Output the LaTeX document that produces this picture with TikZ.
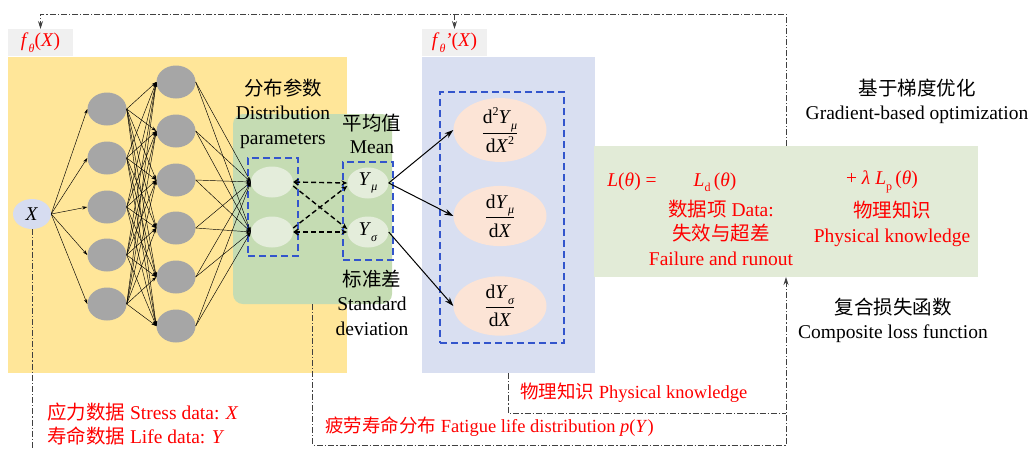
\documentclass[tikz,border=0pt]{standalone}
\usepackage{fontspec}
\setmainfont{Liberation Serif}
\newfontfamily\cjk{Noto Sans CJK SC}
\usetikzlibrary{shapes.geometric,arrows.meta,calc}
\newcommand\mysub[1]{\raisebox{-0.28em}{\fontsize{12}{12}\selectfont #1}}
\newcommand\mysup[1]{\raisebox{0.42em}{\fontsize{12}{12}\selectfont #1}}
\definecolor{yelc}{HTML}{FFE699}
\definecolor{bluep}{HTML}{D9DFF1}
\definecolor{greenr}{HTML}{C5DCB3}
\definecolor{lossc}{HTML}{E2EBD7}
\definecolor{ngray}{HTML}{A6A6A6}
\definecolor{distc}{HTML}{E4EDDB}
\definecolor{orc}{HTML}{FCE4D6}
\definecolor{xnc}{HTML}{D6DCF0}
\definecolor{labg}{HTML}{F0F0F0}
\definecolor{bdash}{HTML}{3355CC}
\definecolor{ddc}{HTML}{404040}
\tikzset{
  txt/.style={font=\fontsize{19.5}{24.5}\selectfont, align=center, inner sep=0pt},
  redtxt/.style={txt, text=red},
  panel/.style={draw=none, inner sep=0pt, outer sep=0pt},
  gnode/.style={ellipse, fill=ngray, minimum width=39pt, minimum height=33pt, inner sep=0pt},
  dnode/.style={ellipse, fill=distc, minimum width=42pt, minimum height=31pt, inner sep=0pt},
  ynode/.style={ellipse, fill=distc, minimum width=41pt, minimum height=31pt, inner sep=0pt, font=\fontsize{19.5}{24}\selectfont},
  onode/.style={ellipse, fill=orc, minimum width=93pt, minimum height=50pt, inner sep=0pt, font=\fontsize{19.5}{22}\selectfont},
  bbox/.style={draw=bdash, line width=1.4pt, dash pattern=on 7pt off 4pt, inner sep=0pt},
  net/.style={draw=black, line width=0.45pt, -{Stealth[length=5pt,width=3.2pt]}},
  darr/.style={draw=black, line width=1.4pt, dash pattern=on 5pt off 3pt, -{Stealth[length=6pt,width=5pt]}},
  sarr/.style={draw=black, line width=1pt, -{Stealth[length=9pt,width=6pt]}},
  dd/.style={draw=ddc, line width=0.8pt, dash pattern=on 6pt off 2pt on 1.2pt off 2pt},
  ddarr/.style={dd, -{Stealth[length=8pt,width=5pt]}},
}
\begin{document}
\begin{tikzpicture}[x=1pt,y=-1pt]
\useasboundingbox (0,0) rectangle (1032,448);
% panels
\node[panel, fill=yelc, minimum width=339pt, minimum height=316pt] (yel) at (177.5,215) {};
\node[panel, fill=bluep, minimum width=173pt, minimum height=316pt] (blue) at (508.5,215) {};
\node[panel, fill=lossc, minimum width=384pt, minimum height=131pt] (loss) at (786,211.5) {};
\node[panel, fill=greenr, rounded corners=10pt, minimum width=159pt, minimum height=190pt] (green) at (312.5,209) {};
\node[panel, fill=labg, minimum width=65pt, minimum height=27pt, text=red, font=\fontsize{19.5}{24}\selectfont] (flab) at (40.5,42.5) {\textit{f}\mysub{\textit{θ}}(\textit{X})};
\node[panel, fill=labg, minimum width=65pt, minimum height=27pt, text=red, font=\fontsize{19.5}{24}\selectfont] (fplab) at (454.5,42.5) {\textit{f}\mysub{\textit{θ}}\kern-0.5pt\textit{'}(\textit{X})};
% dashed boxes
\node[bbox, minimum width=50pt, minimum height=98pt] (dbox) at (273,207) {};
\node[bbox, minimum width=50pt, minimum height=98pt] (ybox) at (368,211) {};
\node[bbox, minimum width=124pt, minimum height=251pt] (obox) at (502,217.5) {};
% network nodes
\node[ellipse, fill=xnc, minimum width=38pt, minimum height=30pt, inner sep=0pt, font=\fontsize{19.5}{24}\selectfont] (X) at (32,214) {\textit{X}};
\foreach \i/\yy in {1/109,2/158,3/207,4/255,5/304} \node[gnode] (a\i) at (107,\yy) {};
\foreach \i/\yy in {1/82,2/131,3/180,4/228,5/277,6/326} \node[gnode] (b\i) at (176,\yy) {};
\node[dnode] (d1) at (272,182) {};
\node[dnode] (d2) at (272,232) {};
\node[ynode] (y1) at (368,183) {\textit{Y}\mysub{\textit{μ}}};
\node[ynode] (y2) at (368,232) {\textit{Y}\mysub{\textit{σ}}};
\node[onode] (o1) at (500,130) {$\displaystyle\frac{\hbox{d\mysup{2}\textit{Y}\mysub{\textit{μ}}}}{\hbox{d\textit{X}\mysup{2}}}$};
\node[onode] (o2) at (500,216) {$\displaystyle\frac{\hbox{d\textit{Y}\mysub{\textit{μ}}}}{\hbox{d\textit{X}}}$};
\node[onode] (o3) at (500,306) {$\displaystyle\frac{\hbox{d\textit{Y}\mysub{\textit{σ}}}}{\hbox{d\textit{X}}}$};
% network connectors
\foreach \i in {1,...,5} \draw[net] (X.east) -- (a\i.west);
\foreach \i in {1,...,5} \foreach \j in {1,...,6} \draw[net] (a\i.east) -- (b\j.west);
\foreach \j in {1,...,6} \draw[net] (b\j.east) -- (d1.west);
\foreach \j in {1,...,6} \draw[net] (b\j.east) -- (d2.west);
% dist -> Y
\draw[darr, {Straight Barb[length=4pt,width=6pt]}-{Stealth[length=6pt,width=5pt]}] (d1.east) -- (y1.west);
\draw[darr, {Straight Barb[length=4pt,width=6pt]}-{Stealth[length=6pt,width=5pt]}] (d2.east) -- (y2.west);
\draw[darr] ($(d1.east)+(0,4)$) -- ($(y2.west)+(0,-3)$);
\draw[darr] ($(d2.east)+(0,-4)$) -- ($(y1.west)+(0,3)$);
% Y -> derivatives
\draw[sarr] (y1.east) -- (o1.west);
\draw[sarr] (y1.east) -- (o2.west);
\draw[sarr] (y2.east) -- (o3.west);
% text labels
\node[txt] (dp) at (283,113.5) {{\cjk 分布参数}\\Distribution\\parameters};
\node[txt, font=\fontsize{19.5}{23}\selectfont] (mean) at (372,133.5) {{\cjk 平均值}\\Mean};
\node[txt] (std) at (372,302.5) {{\cjk 标准差}\\Standard\\deviation};
\node[txt] (gbo) at (917,101.5) {{\cjk 基于梯度优化}\\Gradient-based optimization};
\node[txt] (clf) at (893,320.5) {{\cjk 复合损失函数}\\Composite loss function};
% loss text
\node[redtxt] (leq) at (632,182) {\textit{L}(\textit{θ}) =};
\node[redtxt] (ld) at (715,182) {\textit{L}\mysub{d}\,(\textit{θ})};
\node[redtxt] (lp) at (882,182) {+ \textit{λ} \textit{L}\mysub{p}\,(\textit{θ})};
\node[redtxt] (dterm) at (721,232.5) {{\cjk 数据项} Data:\\{\cjk 失效与超差}\\Failure and runout};
\node[redtxt] (pterm) at (892,224) {{\cjk 物理知识}\\Physical knowledge};
% bottom red labels
\node[redtxt, anchor=west] (sd) at (47,412) {{\cjk 应力数据} Stress data: \textit{X}};
\node[redtxt, anchor=west] (lfd) at (47,436) {{\cjk 寿命数据} Life data: \textit{Y}};
\node[redtxt, anchor=west, font=\fontsize{18.5}{22}\selectfont] (pk) at (520,393) {{\cjk 物理知识} Physical knowledge};
\node[redtxt, anchor=west, font=\fontsize{18.5}{22}\selectfont] (fld) at (325,427) {{\cjk 疲劳寿命分布} Fatigue life distribution \textit{p}(\textit{Y})};
% dash-dot feedback lines
\coordinate (topY) at (0,14);
\coordinate (pkY) at (0,413);
\coordinate (botY) at (0,445);
\coordinate (edgeY) at (0,448);
\draw[ddarr] (loss.north) -- (loss.north |- topY) -| (flab.north);
\draw[ddarr] (fplab.north |- topY) -- (fplab.north);
\draw[ddarr] (green.south) -- (green.south |- botY) -| (loss.south);
\draw[dd] (blue.south) -- (blue.south |- pkY) -- (loss.south |- pkY);
\draw[dd] (X.south) -- (X.south |- edgeY);
\end{tikzpicture}
\end{document}
